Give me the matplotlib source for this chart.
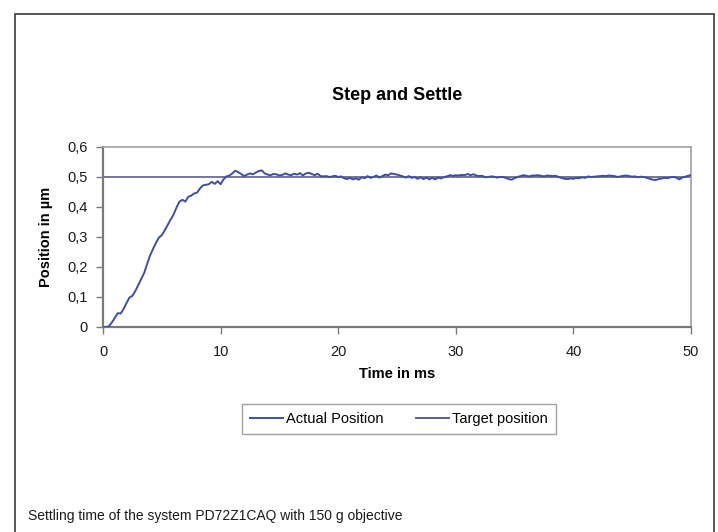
import matplotlib
matplotlib.use("Agg")
import matplotlib.pyplot as plt
from matplotlib.patches import Rectangle
from matplotlib.lines import Line2D

plt.rcParams['font.family'] = ['Liberation Sans', 'DejaVu Sans']

# ---- data ----
time_ms = [
    0.00, 0.25, 0.50, 0.75, 1.00, 1.25, 1.50, 1.75, 2.00, 2.25, 2.50, 2.75,
    3.00, 3.25, 3.50, 3.75, 4.00, 4.25, 4.50, 4.75, 5.00, 5.25, 5.50, 5.75,
    6.00, 6.25, 6.50, 6.75, 7.00, 7.25, 7.50, 7.75, 8.00, 8.25, 8.50, 8.75,
    9.00, 9.25, 9.50, 9.75, 10.00, 10.25, 10.50, 10.75, 11.00, 11.25, 11.50, 11.75,
    12.00, 12.25, 12.50, 12.75, 13.00, 13.25, 13.50, 13.75, 14.00, 14.25, 14.50, 14.75,
    15.00, 15.25, 15.50, 15.75, 16.00, 16.25, 16.50, 16.75, 17.00, 17.25, 17.50, 17.75,
    18.00, 18.25, 18.50, 18.75, 19.00, 19.25, 19.50, 19.75, 20.00, 20.25, 20.50, 20.75,
    21.00, 21.25, 21.50, 21.75, 22.00, 22.25, 22.50, 22.75, 23.00, 23.25, 23.50, 23.75,
    24.00, 24.25, 24.50, 24.75, 25.00, 25.25, 25.50, 25.75, 26.00, 26.25, 26.50, 26.75,
    27.00, 27.25, 27.50, 27.75, 28.00, 28.25, 28.50, 28.75, 29.00, 29.25, 29.50, 29.75,
    30.00, 30.25, 30.50, 30.75, 31.00, 31.25, 31.50, 31.75, 32.00, 32.25, 32.50, 32.75,
    33.00, 33.25, 33.50, 33.75, 34.00, 34.25, 34.50, 34.75, 35.00, 35.25, 35.50, 35.75,
    36.00, 36.25, 36.50, 36.75, 37.00, 37.25, 37.50, 37.75, 38.00, 38.25, 38.50, 38.75,
    39.00, 39.25, 39.50, 39.75, 40.00, 40.25, 40.50, 40.75, 41.00, 41.25, 41.50, 41.75,
    42.00, 42.25, 42.50, 42.75, 43.00, 43.25, 43.50, 43.75, 44.00, 44.25, 44.50, 44.75,
    45.00, 45.25, 45.50, 45.75, 46.00, 46.25, 46.50, 46.75, 47.00, 47.25, 47.50, 47.75,
    48.00, 48.25, 48.50, 48.75, 49.00, 49.25, 49.50, 49.75, 50.00,
]

actual_position = [
    0.000, 0.000, 0.002, 0.015, 0.030, 0.046, 0.045, 0.060, 0.080, 0.098, 0.104, 0.120,
    0.140, 0.160, 0.180, 0.210, 0.238, 0.260, 0.280, 0.298, 0.306, 0.322, 0.340, 0.358,
    0.375, 0.398, 0.418, 0.424, 0.418, 0.434, 0.438, 0.445, 0.448, 0.462, 0.472, 0.474,
    0.476, 0.484, 0.477, 0.486, 0.476, 0.492, 0.502, 0.505, 0.512, 0.521, 0.516, 0.510,
    0.503, 0.508, 0.512, 0.509, 0.515, 0.520, 0.522, 0.512, 0.508, 0.506, 0.510, 0.509,
    0.505, 0.507, 0.512, 0.508, 0.506, 0.511, 0.508, 0.513, 0.505, 0.512, 0.514, 0.510,
    0.506, 0.511, 0.503, 0.502, 0.503, 0.500, 0.502, 0.504, 0.500, 0.502, 0.496, 0.493,
    0.497, 0.492, 0.496, 0.491, 0.499, 0.496, 0.503, 0.497, 0.500, 0.505, 0.498, 0.503,
    0.508, 0.506, 0.512, 0.510, 0.508, 0.505, 0.502, 0.498, 0.503, 0.497, 0.500, 0.494,
    0.499, 0.493, 0.498, 0.492, 0.497, 0.492, 0.498, 0.495, 0.500, 0.502, 0.506, 0.504,
    0.506, 0.505, 0.507, 0.506, 0.510, 0.506, 0.509, 0.505, 0.503, 0.504, 0.499, 0.500,
    0.502, 0.501, 0.498, 0.500, 0.500, 0.497, 0.493, 0.491, 0.496, 0.500, 0.503, 0.506,
    0.504, 0.502, 0.505, 0.505, 0.506, 0.504, 0.502, 0.505, 0.504, 0.503, 0.504, 0.500,
    0.497, 0.494, 0.493, 0.495, 0.494, 0.497, 0.496, 0.499, 0.497, 0.502, 0.500, 0.501,
    0.502, 0.503, 0.504, 0.503, 0.505, 0.504, 0.503, 0.500, 0.502, 0.504, 0.505, 0.503,
    0.501, 0.502, 0.499, 0.501, 0.500, 0.497, 0.494, 0.491, 0.490, 0.493, 0.495, 0.497,
    0.496, 0.499, 0.500, 0.498, 0.492, 0.498, 0.501, 0.504, 0.506,
]

target_time = [0.0, 50.0]
target_position = [0.5, 0.5]

x_ticks = [0, 10, 20, 30, 40, 50]
y_ticks = [0.0, 0.1, 0.2, 0.3, 0.4, 0.5, 0.6]
y_tick_labels = ["0", "0,1", "0,2", "0,3", "0,4", "0,5", "0,6"]

title = "Step and Settle"
x_label = "Time in ms"
y_label = "Position in µm"
series_names = ["Actual Position", "Target position"]
caption = "Settling time of the system PD72Z1CAQ with 150 g objective"

# ---- figure ----
W, H = 718, 532
fig = plt.figure(figsize=(W / 100, H / 100), dpi=100)
fig.patch.set_facecolor("white")

# outer frame
fig.patches.append(Rectangle((15 / W, -0.05), (714 - 15) / W, 1.05 - 14 / H,
                             transform=fig.transFigure, fill=False,
                             edgecolor="#3a3a3a", linewidth=1.2))

ax_left, ax_right, ax_top, ax_bottom = 103, 691, 147, 327
ax = fig.add_axes([ax_left / W, 1 - ax_bottom / H,
                   (ax_right - ax_left) / W, (ax_bottom - ax_top) / H])

actual_color = "#3d4f9f"
target_color = "#5c5e8e"

ax.plot(time_ms, actual_position, color=actual_color, linewidth=1.4,
        label=series_names[0], zorder=3)
ax.plot(target_time, target_position, color=target_color, linewidth=1.2,
        label=series_names[1], zorder=2)

ax.set_xlim(0, 50)
ax.set_ylim(0, 0.6)
ax.set_xticks(x_ticks)
ax.set_xticklabels([str(v) for v in x_ticks])
ax.set_yticks(y_ticks)
ax.set_yticklabels(y_tick_labels)

for side in ["left", "bottom"]:
    ax.spines[side].set_color("#7a7a7a")
    ax.spines[side].set_linewidth(1.6)
for side in ["top", "right"]:
    ax.spines[side].set_color("#a0a0a0")
    ax.spines[side].set_linewidth(1.2)

ax.tick_params(axis="both", direction="out", length=5, width=1.0,
               color="#7a7a7a", labelsize=10.5, labelcolor="#1a1a1a")
ax.tick_params(axis="x", pad=8)
ax.tick_params(axis="y", pad=6)

ax.set_xlabel(x_label, fontsize=10.5, fontweight="bold", labelpad=6)
ax.set_ylabel(y_label, fontsize=10.5, fontweight="bold", labelpad=10)

fig.text((ax_left + ax_right) / 2 / W, 1 - 96 / H, title,
         ha="center", va="center", fontsize=13, fontweight="bold")

handles = [Line2D([], [], color=actual_color, linewidth=1.4),
           Line2D([], [], color=target_color, linewidth=1.4)]
leg = fig.legend(handles, series_names, loc="center",
                 bbox_to_anchor=(399 / W, 1 - 419 / H), ncol=2,
                 fontsize=10.5, frameon=True, fancybox=False,
                 edgecolor="#8a8a8a", handlelength=2.3, handletextpad=0.2,
                 columnspacing=2.2, borderpad=0.55)
leg.get_frame().set_linewidth(1.0)

fig.text(28 / W, 1 - 516 / H, caption, ha="left", va="center", fontsize=10,
         family=["Liberation Sans Narrow", "Liberation Sans", "DejaVu Sans"],
         color="#1a1a1a")

fig.savefig("out.png", dpi=100, facecolor="white")
